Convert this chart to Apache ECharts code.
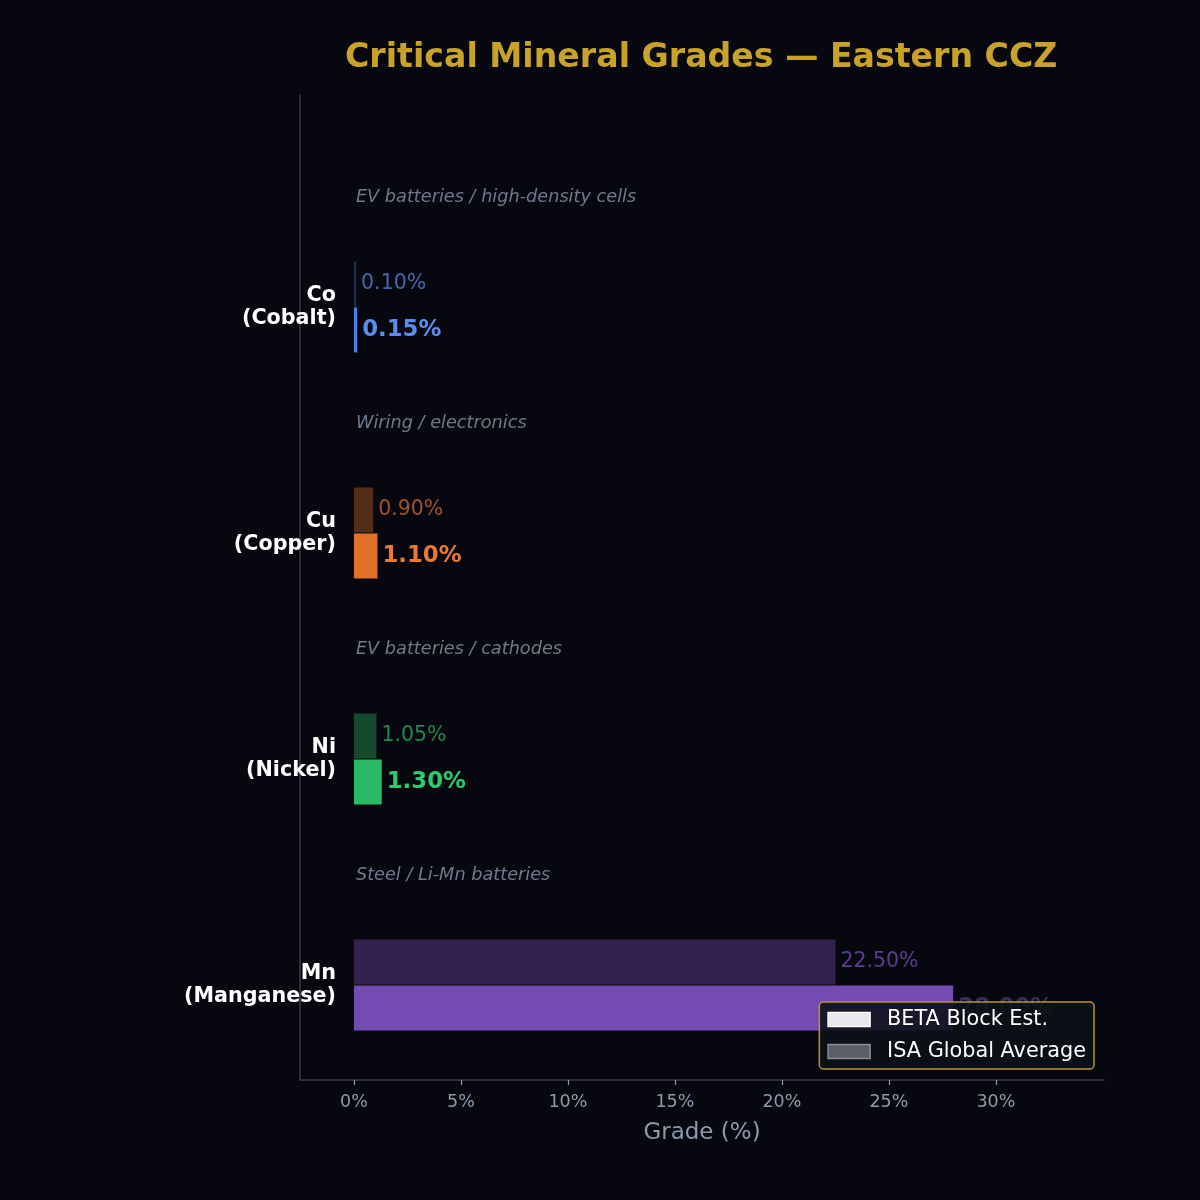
<!DOCTYPE html>
<html>
<head>
<meta charset="utf-8">
<script src="https://cdn.jsdelivr.net/npm/echarts@6/dist/echarts.min.js"></script>
<style>
html,body{margin:0;padding:0;background:#07080f;}
#chart{width:1200px;height:1200px;}
</style>
</head>
<body>
<div id="chart"></div>
<script>
const symbols = ['Co', 'Cu', 'Ni', 'Mn'];
const mineralNames = ['Cobalt', 'Copper', 'Nickel', 'Manganese'];
const betaGrades = [0.15, 1.10, 1.30, 28.00];
const isaGrades = [0.10, 0.90, 1.05, 22.50];
const uses = ['EV batteries / high-density cells', 'Wiring / electronics', 'EV batteries / cathodes', 'Steel / Li-Mn batteries'];
const xTicks = [0, 5, 10, 15, 20, 25, 30];
const betaColors = ['#4a80e2', '#e0702a', '#29ba65', '#744bb0'];
const betaLabelColors = ['#5b8def', '#ea7a30', '#2ecc71', '#3a2d5c'];
const isaColors = ['#1f2f52', '#532d17', '#154a2e', '#33214d'];
const isaLabelColors = ['#4468ae', '#9c5428', '#1f8a4c', '#5a3d8f'];

const FONT = 'DejaVu Sans';
const xMin = -2.52, xMax = 35.05;
const gray = '#8c99ac';

const chart = echarts.init(document.getElementById('chart'), null, {renderer: 'canvas'});

const option = {
  backgroundColor: '#07080f',
  textStyle: {fontFamily: FONT},
  animation: false,
  title: {
    text: 'Critical Mineral Grades — Eastern CCZ',
    left: 340, top: 37,
    textStyle: {color: '#c9a22a', fontSize: 33.2, fontWeight: 'bold', fontFamily: FONT}
  },
  legend: {
    orient: 'vertical',
    right: 106, bottom: 131,
    padding: [7, 8, 7, 8],
    backgroundColor: 'rgba(13,17,24,0.88)',
    borderColor: '#b8962e', borderWidth: 1.5, borderRadius: 4,
    itemWidth: 42, itemHeight: 14, itemGap: 11,
    icon: 'rect',
    textStyle: {color: '#ffffff', fontSize: 20.8, fontFamily: FONT, padding: [0, 0, 0, 12]},
    data: [
      {name: 'BETA Block Est.', itemStyle: {color: '#e8e8ec', borderColor: '#ffffff', borderWidth: 1.5}},
      {name: 'ISA Global Average', itemStyle: {color: '#5c5e66', borderColor: '#8d8d92', borderWidth: 1.5}}
    ]
  },
  grid: [
    {left: 300, right: 96, top: 95, bottom: 120, containLabel: false},
    {left: 300, right: 96, top: 194, bottom: 102, containLabel: false}
  ],
  xAxis: [
    {
      gridIndex: 0, type: 'value', min: xMin, max: xMax,
      name: 'Grade (%)', nameLocation: 'middle', nameGap: 42,
      nameTextStyle: {color: gray, fontSize: 23, fontFamily: FONT},
      axisLine: {show: true, lineStyle: {color: '#3a3b40', width: 1.5}},
      axisTick: {show: true, length: 5, customValues: xTicks, lineStyle: {color: gray, width: 1.2}},
      axisLabel: {customValues: xTicks, color: gray, fontSize: 17.5, margin: 13, formatter: v => v + '%'},
      splitLine: {show: false}
    },
    {
      gridIndex: 1, type: 'value', min: xMin, max: xMax, show: false
    }
  ],
  yAxis: [
    {
      gridIndex: 0, type: 'value', min: 0, max: 1,
      axisLine: {show: true, onZero: false, lineStyle: {color: '#3a3b40', width: 1.5}},
      axisTick: {show: false}, axisLabel: {show: false}, splitLine: {show: false}
    },
    {
      gridIndex: 1, type: 'category', inverse: true,
      data: symbols,
      axisLine: {show: false}, axisTick: {show: false}, splitLine: {show: false},
      axisLabel: {
        margin: -36, color: '#ffffff', fontWeight: 'bold', fontSize: 20.7, lineHeight: 23,
        align: 'right', fontFamily: FONT,
        formatter: (v, i) => v + '\n(' + mineralNames[i] + ')'
      }
    }
  ],
  series: [
    {
      name: 'ISA Global Average', type: 'bar', xAxisIndex: 1, yAxisIndex: 1,
      barWidth: 45, barGap: '2%',
      data: isaGrades.map((v, i) => ({
        value: v,
        itemStyle: {color: isaColors[i]},
        label: {color: isaLabelColors[i]}
      })),
      label: {show: true, position: 'right', distance: 5, fontSize: 20.5, fontFamily: FONT,
        formatter: p => p.value.toFixed(2) + '%'}
    },
    {
      name: 'BETA Block Est.', type: 'bar', xAxisIndex: 1, yAxisIndex: 1,
      barWidth: 45, barGap: '2%',
      data: betaGrades.map((v, i) => ({
        value: v,
        itemStyle: {color: betaColors[i]},
        label: {color: betaLabelColors[i]}
      })),
      label: {show: true, position: 'right', distance: 5, fontSize: 22.8, fontWeight: 'bold', fontFamily: FONT,
        formatter: p => p.value.toFixed(2) + '%'}
    },
    {
      name: 'uses', type: 'scatter', xAxisIndex: 1, yAxisIndex: 1,
      symbolSize: 0, silent: true,
      data: uses.map((u, i) => [0, i]),
      label: {
        show: true, position: 'right', distance: 2, offset: [0, -110],
        color: '#8896ab', fontStyle: 'italic', fontSize: 17.7, fontFamily: FONT,
        formatter: p => uses[p.dataIndex]
      }
    }
  ]
};
chart.setOption(option);
</script>
</body>
</html>
